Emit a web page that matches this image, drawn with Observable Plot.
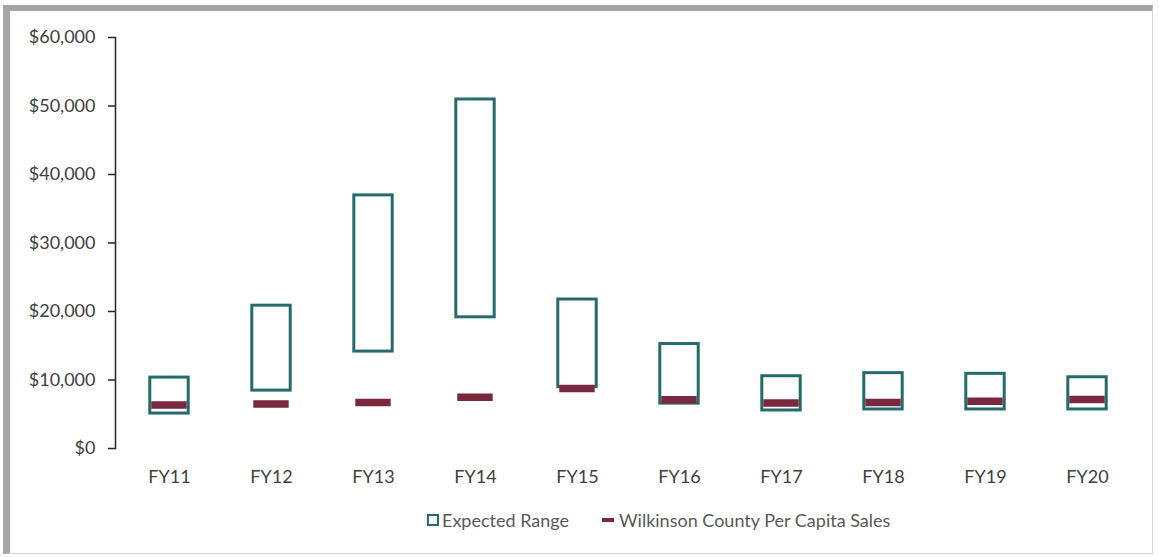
<!DOCTYPE html>
<html>
<head>
<meta charset="utf-8">
<script src="https://cdn.jsdelivr.net/npm/d3@7"></script>
<script src="https://cdn.jsdelivr.net/npm/@observablehq/plot@0.6"></script>
<style>
  html, body { margin: 0; padding: 0; background: #fff; }
  #frame {
    position: absolute; left: 3px; top: 5px;
    width: 1142px; height: 542px;
    border-left: 7px solid #a5a5a5; border-top: 6px solid #a5a5a5;
    border-right: 1px solid #d4d4d4; border-bottom: 1px solid #d4d4d4;
    background: #fff; font-family: Lato, sans-serif;
  }
  #chart { position: absolute; left: 0; top: 0; }
  #legend {
    position: absolute; left: 417px; top: 498px;
    display: flex; align-items: center;
    font-size: 18px; color: #595959; font-family: Lato, sans-serif;
  }
  .item { display: flex; align-items: center; margin-right: 33px; }
  .sw-box { width: 8px; height: 8px; border: 2.5px solid #256b6c; margin-right: 3px; }
  .sw-dash { width: 12px; height: 4px; background: #7a2840; margin-right: 5px; }
</style>
</head>
<body>
<div id="frame">
  <div id="chart"></div>
  <div id="legend"></div>
</div>
<script>
const years = ["FY11","FY12","FY13","FY14","FY15","FY16","FY17","FY18","FY19","FY20"];
const rangeLow  = [5100, 8450, 14150, 19150, 8950, 6550, 5550, 5700, 5700, 5700];
const rangeHigh = [10350, 20850, 36950, 50950, 21750, 15250, 10550, 11000, 10900, 10400];
const perCapita = [6350, 6500, 6700, 7500, 8750, 7100, 6650, 6700, 6900, 7150];
const seriesNames = ["Expected Range", "Wilkinson County Per Capita Sales"];
const yTicks = [0, 10000, 20000, 30000, 40000, 50000, 60000];

const teal = "#256b6c";
const maroon = "#7a2840";

const data = years.map((y, i) => ({year: y, low: rangeLow[i], high: rangeHigh[i], value: perCapita[i]}));

const chart = Plot.plot({
  width: 1142,
  height: 490,
  marginLeft: 105,
  marginRight: 11,
  marginTop: 26,
  marginBottom: 53,
  style: {fontFamily: "Lato, sans-serif", fontSize: "18px", color: "#404040", background: "transparent"},
  x: {domain: years, padding: 0, label: null},
  y: {domain: [0, 60000], label: null},
  marks: [
    Plot.barY(data, {x: "year", y1: "low", y2: "high", fill: "white", stroke: teal, strokeWidth: 3, insetLeft: 31.8, insetRight: 31.8}),
    Plot.tickY(data, {x: "year", y: "value", stroke: maroon, strokeWidth: 7.5, insetLeft: 33.3, insetRight: 33.3}),
    Plot.frame({anchor: "left", stroke: "#262626", strokeWidth: 1.5}),
    Plot.axisY({ticks: yTicks, tickSize: 7, tickPadding: 13, tickFormat: d => "$" + d3.format(",")(d), stroke: "#262626", strokeWidth: 1.5, label: null}),
    Plot.axisX({tickSize: 0, tickPadding: 22, label: null})
  ]
});
document.getElementById("chart").appendChild(chart);

const legend = document.getElementById("legend");
seriesNames.forEach((name, i) => {
  const item = document.createElement("div");
  item.className = "item";
  const sw = document.createElement("span");
  sw.className = i === 0 ? "sw-box" : "sw-dash";
  item.appendChild(sw);
  const t = document.createElement("span");
  t.textContent = name;
  item.appendChild(t);
  legend.appendChild(item);
});
</script>
</body>
</html>
